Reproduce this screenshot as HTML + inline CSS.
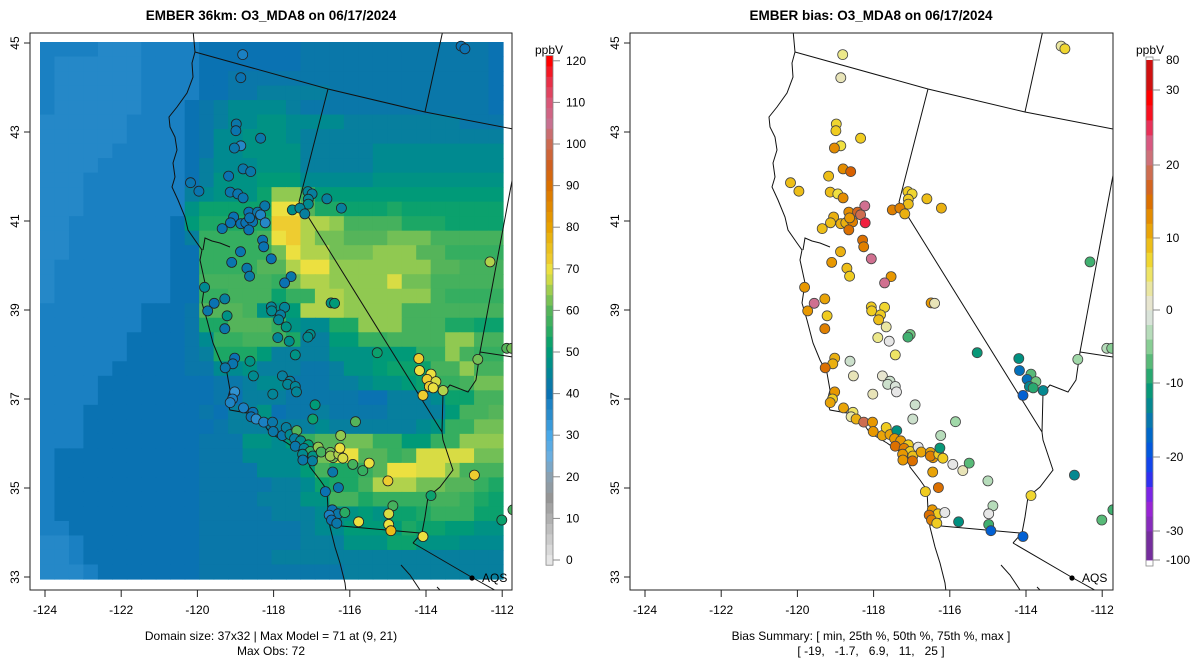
<!DOCTYPE html>
<html><head><meta charset="utf-8">
<style>
html,body{margin:0;padding:0;background:#fff;}
svg{display:block;font-family:"Liberation Sans",Arial,sans-serif;}
</style></head>
<body>
<svg id="fig" width="1200" height="672" viewBox="0 0 1200 672" xmlns="http://www.w3.org/2000/svg">
<defs>
<clipPath id="clipL"><rect x="30" y="33" width="482" height="557"/></clipPath>
<clipPath id="clipR"><rect x="630" y="33" width="483" height="557"/></clipPath>
</defs>
<text x="271" y="20" text-anchor="middle" font-size="13.5" font-weight="bold">EMBER 36km: O3_MDA8 on 06/17/2024</text>
<text x="871" y="20" text-anchor="middle" font-size="13.5" font-weight="bold">EMBER bias: O3_MDA8 on 06/17/2024</text>
<g id="leftPanel"></g>
<g id="rightPanel"></g>
<text x="271" y="640" text-anchor="middle" font-size="12">Domain size: 37x32 | Max Model = 71 at (9, 21)</text>
<text x="271" y="655" text-anchor="middle" font-size="12">Max Obs: 72</text>
<text x="871" y="640" text-anchor="middle" font-size="12">Bias Summary: [ min, 25th %, 50th %, 75th %, max ]</text>
<text x="871" y="655" text-anchor="middle" font-size="12" xml:space="preserve">[ -19,   -1.7,   6.9,   11,   25 ]</text>
</svg>
<script>
// ---- data ----
const gridRows = [
"eeee"+"ddd"+"eeee"+"fffffff"+"ggggggggggggg"+"f",
"e"+"dddddd"+"eeee"+"fffffff"+"ggggggggggggg"+"f",
"e"+"dddddd"+"eeee"+"ff"+"gggggggggggggggggg"+"f",
"e"+"dddddd"+"eeee"+"ff"+"gg"+"hhhhh"+"ggggggggggg"+"f",
"e"+"dddddd"+"eee"+"f"+"g"+"h"+"iiii"+"h"+"ggggggggggggg"+"f",
"dddddd"+"eeee"+"f"+"g"+"h"+"ii"+"jj"+"iiii"+"hhhhhhhh"+"ggg",
"dddddd"+"eeee"+"f"+"g"+"ii"+"jjj"+"i"+"hhhhhhhhhhhhhh",
"ddddd"+"eeeee"+"f"+"g"+"ii"+"jjjj"+"hhhhh"+"iiiiiiiii",
"dddd"+"eeeeee"+"f"+"h"+"iii"+"jjj"+"hhhhh"+"iiiiiiiii",
"ddd"+"eeeeeee"+"f"+"h"+"jjj"+"kkk"+"iiiii"+"jjjjjjjjj",
"ddd"+"eeeeeee"+"h"+"i"+"jjj"+"l"+"rr"+"n"+"kkkkkkkkkkkkk",
"ddd"+"eeeeeee"+"j"+"lllll"+"uu"+"p"+"mm"+"lll"+"m"+"lllllll",
"dd"+"eeeeeee"+"f"+"k"+"mmmmm"+"vv"+"ss"+"r"+"oooo"+"mmm"+"llll",
"dd"+"eeeeeee"+"f"+"h"+"nnnn"+"o"+"u"+"v"+"s"+"qq"+"ppp"+"qqq"+"ooooo",
"dd"+"eeeeeee"+"ff"+"nnnnn"+"q"+"u"+"ss"+"qqq"+"rrr"+"pp"+"nnnn",
"d"+"eeeeeeee"+"ff"+"nnnn"+"pp"+"s"+"uu"+"rrrrrrr"+"pp"+"ooo",
"d"+"eeeeeeee"+"ff"+"ooooo"+"n"+"q"+"ss"+"rrrr"+"t"+"qq"+"ooooo",
"d"+"eeeeeeee"+"ff"+"nn"+"ooo"+"l"+"nn"+"ss"+"rrrrrr"+"o"+"nnnn",
"eeeeeee"+"fff"+"g"+"ppp"+"o"+"jj"+"k"+"sss"+"rrrr"+"ooooooo",
"eeeeeee"+"fff"+"g"+"mm"+"ppp"+"n"+"j"+"ii"+"mm"+"rrr"+"ooo"+"mm"+"ll",
"eeeeee"+"ffff"+"g"+"i"+"nn"+"ooo"+"m"+"hh"+"kk"+"nn"+"oooo"+"rr"+"oo",
"eeeeee"+"ffff"+"g"+"h"+"mmm"+"k"+"hhhh"+"jjj"+"kkk"+"nn"+"r"+"o"+"nn",
"eeeee"+"fffff"+"gg"+"ii"+"j"+"hhh"+"gg"+"h"+"jj"+"k"+"lll"+"oo"+"r"+"oo",
"eeee"+"ffffffff"+"gg"+"h"+"ii"+"ggg"+"hh"+"i"+"jj"+"k"+"l"+"nn"+"o"+"qq",
"eeee"+"ffffffff"+"g"+"f"+"hhh"+"ggggg"+"ff"+"hhh"+"i"+"ll"+"oo",
"eee"+"ffffffff"+"g"+"f"+"hh"+"j"+"f"+"gg"+"h"+"gggg"+"hhhh"+"k"+"oo"+"p",
"eee"+"fffffffff"+"g"+"hhhhhh"+"i"+"hhhhhh"+"i"+"j"+"nn"+"qq",
"eee"+"ffffffff"+"ggg"+"jj"+"i"+"k"+"n"+"pp"+"qq"+"nn"+"kk"+"nn"+"rrr",
"e"+"ffffffffff"+"ggg"+"iiii"+"k"+"q"+"uu"+"pp"+"n"+"o"+"tttt"+"qq",
"e"+"ffffffffff"+"gggg"+"iii"+"k"+"o"+"mm"+"n"+"p"+"uu"+"tt"+"r"+"ooo",
"e"+"ffffffffff"+"ggggg"+"hh"+"i"+"l"+"mm"+"o"+"sss"+"qq"+"pp"+"n"+"m",
"e"+"ffffffffff"+"gggg"+"hhh"+"jj"+"oo"+"m"+"nnnn"+"oo"+"n"+"m"+"l",
"e"+"ffffffffff"+"ggggg"+"hhh"+"i"+"jj"+"k"+"j"+"ll"+"m"+"nnn"+"ll",
"ee"+"fffffffff"+"ggggggg"+"h"+"ii"+"kkkk"+"m"+"ll"+"kk"+"jj",
"dd"+"e"+"ffffffff"+"ggggggg"+"hhh"+"jjj"+"ll"+"jjj"+"iii",
"dd"+"e"+"ffffffff"+"ggggg"+"hhhhhhhhhhhhhhhh",
"ddd"+"e"+"fffffff"+"gggggggggg"+"hhhhhhhhhhh"
];
const siteLon = [-118.81,-118.86,-118.98,-118.99,-118.34,-118.86,-119.03,-118.80,-118.60,-119.18,-120.18,-119.96,-119.14,-118.94,-118.80,-118.23,-118.65,-118.42,-118.34,-119.05,-119.13,-118.86,-118.73,-118.55,-118.63,-118.22,-119.35,-118.65,-118.29,-118.26,-118.87,-118.06,-119.10,-118.70,-118.63,-117.54,-117.71,-119.81,-119.56,-119.28,-118.06,-117.71,-116.49,-116.40,
-117.10,-116.99,-117.09,-117.09,-116.60,-116.22,-117.51,-117.31,-117.18,
-119.73,-119.22,-119.28,-118.05,-117.82,-117.87,-117.67,-117.89,-117.59,-117.43,-117.04,-117.10,-119.02,-119.07,-119.27,-118.62,-118.53,-117.77,-117.57,-117.63,-117.43,-117.40,-118.02,-119.02,-119.08,-119.14,-118.79,-118.54,-118.59,-118.46,-118.26,-118.03,-118.01,-117.77,-117.67,-117.57,-117.39,-117.45,-117.29,-117.43,-117.09,-117.20,-117.04,-117.24,-116.97,-117.23,-116.98,-116.83,-116.75,-116.51,-116.44,-116.51,-116.29,-116.18,-116.26,-116.24,-115.85,-116.91,-116.97,-115.92,-115.66,-115.49,-116.45,-116.30,-116.64,-116.46,-116.31,-116.54,-116.48,-116.34,-116.13,-115.77,
-115.28,-114.19,-114.17,-113.87,-113.97,-113.74,-113.91,-113.81,-113.55,-114.08,-112.64,-111.88,-111.75,-115.00,-112.73,-113.87,-114.87,-114.98,-114.98,-114.92,-114.08,-112.01,-111.72,-113.08,-112.98,-112.32];
const siteLat = [44.74,44.22,43.18,43.03,42.86,42.69,42.64,42.17,42.11,42.01,41.86,41.67,41.65,41.61,41.52,41.34,41.20,41.20,41.14,41.09,40.96,40.94,40.96,40.98,41.07,40.96,40.83,40.80,40.57,40.42,40.31,40.15,40.07,39.94,39.76,39.75,39.61,39.51,39.15,39.25,39.07,39.06,39.16,39.15,
41.66,41.61,41.49,41.38,41.50,41.29,41.25,41.29,41.16,
38.98,38.87,38.58,38.98,38.89,38.78,38.62,38.38,38.30,37.99,38.45,38.39,37.92,37.79,37.70,37.85,37.52,37.52,37.40,37.33,37.28,37.16,37.11,37.16,37.00,36.92,36.80,36.70,36.60,36.55,36.48,36.48,36.27,36.18,36.36,36.20,36.29,36.11,36.06,35.94,35.97,35.89,35.82,35.76,35.72,35.63,35.61,35.92,35.81,35.80,35.68,35.72,35.76,35.67,35.90,36.18,36.49,36.87,36.55,35.53,35.39,35.56,35.36,35.01,34.92,34.51,34.42,34.39,34.28,34.21,34.45,34.24,
38.04,37.91,37.64,37.56,37.44,37.39,37.28,37.25,37.19,37.08,37.89,38.14,38.14,35.16,35.29,34.83,34.60,34.42,34.18,34.04,33.91,34.28,34.51,44.93,44.87,40.08];
const siteObs = [38,40,42,41,42,36,42,42,42,40,41,41,41,41,41,42,40,42,37,40,40,40,40,41,40,36,41,40,40,40,41,40,41,42,43,42,40,46,40,44,45,45,48,50,
45,44,45,46,44,44,47,45,44,
42,48,42,46,44,45,48,45,47,48,47,46,40,41,42,48,46,44,44,45,45,45,45,34,38,37,38,40,40,35,38,42,42,42,44,46,60,44,46,42,50,45,55,46,48,42,44,64,58,62,62,65,66,68,70,64,60,50,52,58,56,70,42,42,40,40,42,38,40,42,55,70,
52,72,70,70,72,68,72,70,66,72,62,60,62,72,72,52,58,68,70,76,70,52,58,40,40,66];
const siteBias = [4,2,7,8,8,6,13,13,16,9,9,9,9,6,13,22,13,17,19,10,9,10,10,14,12,26,9,15,15,14,10,22,12,9,8,12,22,12,22,11,8,7,12,2,
8,7,8,9,9,10,14,14,10,
12,8,14,8,8,9,3,4,0,5,-6,-8,10,10,15,-2,2,1,-2,-2,-1,0,2,12,8,11,11,5,3,10,19,12,12,11,8,11,-12,12,12,15,8,14,8,12,9,12,15,0,11,11,12,14,8,8,-11,-3,-4,-2,-2,0,2,-7,11,15,8,12,8,15,14,8,0,-12,
-11,-12,-16,-7,-16,-6,-13,-9,-13,-18,-4,-3,-5,-3,-13,7,-3,0,-8,-18,-18,-7,-8,3,7,-8];
const xTicks = [-124,-122,-120,-118,-116,-114,-112];
const yTicks = [33,35,37,39,41,43,45];
const obsBarTicks = [0,10,20,30,40,50,60,70,80,90,100,110,120];
const biasBarTicks = [-100,-30,-20,-10,0,10,20,30,80];

// ---- scales ----
const NS='http://www.w3.org/2000/svg';
function xScale(lon, off){ return 45 + (lon + 124) * 38.1 + off; }
function yScale(lat){ return 43 + (45 - lat) * 44.5; }
function hex2rgb(h){return [parseInt(h.slice(1,3),16),parseInt(h.slice(3,5),16),parseInt(h.slice(5,7),16)];}
function interp(stops, v){
  if(v<=stops[0][0]) return stops[0][1];
  for(let i=1;i<stops.length;i++){
    if(v<=stops[i][0]){
      const t=(v-stops[i-1][0])/(stops[i][0]-stops[i-1][0]);
      const a=hex2rgb(stops[i-1][1]), b=hex2rgb(stops[i][1]);
      return 'rgb('+a.map((c,k)=>Math.round(c+(b[k]-c)*t)).join(',')+')';
    }
  }
  return stops[stops.length-1][1];
}
const obsStops=[[0,'#e6e6e6'],[10,'#b0b0b0'],[15,'#959595'],[20,'#8aa0b0'],[25,'#6aaee0'],[30,'#48a8e8'],[35,'#2a8ccb'],[38,'#1a80c2'],[40,'#0a72b2'],[43,'#0a7aa5'],[46,'#008a90'],[50,'#009a78'],[53,'#10a468'],[56,'#35ae60'],[60,'#55b45a'],[63,'#80c454'],[66,'#b0d24c'],[68,'#d8dc44'],[70,'#ece040'],[72,'#eecc30'],[76,'#eabc18'],[80,'#e8a200'],[90,'#da7000'],[95,'#d06020'],[100,'#cc6a50'],[105,'#c87090'],[110,'#d85878'],[115,'#e83048'],[120,'#ff0000']];
const biasStops=[[-100,'#6a2a8a'],[-30,'#7f2fb0'],[-26,'#a020e0'],[-23,'#3030f0'],[-20,'#0550e8'],[-17,'#0068c8'],[-14,'#0a80a0'],[-12,'#009080'],[-10,'#10a070'],[-8,'#40b070'],[-6,'#70c480'],[-4,'#a0d8a8'],[-2,'#cce0cc'],[0,'#e6e6e6'],[2,'#e8e4b8'],[4,'#ece88a'],[6,'#f0e040'],[8,'#f0cc20'],[10,'#eab010'],[12,'#e89800'],[14,'#e08000'],[16,'#d86000'],[18,'#d06a40'],[20,'#cc7060'],[22,'#d07090'],[24,'#e04070'],[26,'#f02040'],[28,'#ff0000'],[30,'#ff0000'],[80,'#a02020']];
function obsY(v){ return 560 - v*4.16; }
const biasPos=[[-100,560],[-30,531],[-20,457],[-10,383],[0,310],[10,238],[20,165],[30,90],[80,60]];
function biasY(v){
  for(let i=1;i<biasPos.length;i++){ if(v<=biasPos[i][0]){const a=biasPos[i-1],b=biasPos[i];return a[1]+(v-a[0])/(b[0]-a[0])*(b[1]-a[1]);} }
  return 60;
}
function mk(tag, attrs, parent){ const e=document.createElementNS(NS,tag); for(const k in attrs) e.setAttribute(k,attrs[k]); parent.appendChild(e); return e; }

const coast="193,30 195,52 192,63 193,77 187,93 177,107 169,117 170,127 175,137 177,150 173,163 175,177 172,187 178,200 185,217 188,230 197,243 202,250 200,260 205,283 202,303 207,320 213,343 220,360 227,373 230,390 227,402 230,410 247,413 263,423 270,433 287,443 297,450 307,453 310,467 320,480 327,490 328,510 330,527 335,547 340,563 345,583 347,600";
const borders=["203,250 205,238 212,241 220,243 230,247","195,52 328,89 425,112 513,129","328,89 299,202 442,432","443,30 425,112","514,170 480,352","480,352 513,357","480,352 476,380 468,392 450,385 443,393 442,432","442,432 443,440 453,470 440,487 428,497 425,517 422,533 413,543","330,525 420,533","413,543 473,578 500,593","401,565 410,575 420,590","437,587 445,595"];

function basemap(g, off){
  const bm=mk('g',{transform:'translate('+off+',0)'},g);
  const c=mk('polyline',{points:coast,fill:'none',stroke:'#111','stroke-width':'1'},bm);
  
  
  borders.forEach(p=>{
    const b=mk('polyline',{points:p,fill:'none',stroke:'#111','stroke-width':'1'},bm);
    
    
  });
  return bm;
}
function axes(g, off){
  const box=mk('rect',{x:30+off,y:33,width:482+(off?1:0),height:557,fill:'none',stroke:'#222','stroke-width':'1'},g);
  
  
  xTicks.forEach(t=>{
    const x=xScale(t,off);
    mk('line',{x1:x,y1:590,x2:x,y2:597,stroke:'#222'},g);
    const tx=mk('text',{x:x,y:614,'text-anchor':'middle','font-size':'12'},g); tx.textContent=t;
    
    
  });
  yTicks.forEach(t=>{
    const y=yScale(t);
    mk('line',{x1:30+off,y1:y,x2:24+off,y2:y,stroke:'#222'},g);
    const tx=mk('text',{x:19+off,y:y,'text-anchor':'middle','font-size':'12',transform:'rotate(-90 '+(19+off)+' '+y+')'},g); tx.textContent=t;
    
    
  });
}
function aqs(g, off){
  const d=mk('circle',{cx:472+off,cy:578,r:2.6,fill:'#000'},g);
  
  
  const t=mk('text',{x:482+off,y:582,'font-size':'12'},g); t.textContent='AQS';
  
  
}

// ---- left panel ----
const L=document.getElementById('leftPanel');
const Lc=mk('g',{'clip-path':'url(#clipL)'},L);
const cw=463/32, ch=537/37;
gridRows.forEach((row,r)=>{
  for(let c=0;c<row.length;c++){
    const v=30+2*(row.charCodeAt(c)-97);
    const cell=mk('rect',{x:(40+c*cw).toFixed(2),y:(42+r*ch).toFixed(2),width:(cw+0.6).toFixed(2),height:(ch+0.6).toFixed(2),fill:interp(obsStops,v)},Lc);
    
    
  }
});
basemap(Lc,0);
siteLon.forEach((lon,i)=>{
  const m=mk('circle',{cx:xScale(lon,0).toFixed(1),cy:yScale(siteLat[i]).toFixed(1),r:5,fill:interp(obsStops,siteObs[i]),stroke:'#222','stroke-width':'0.8'},Lc);
  
  
});
aqs(L,0);
axes(L,0);
// left colorbar
const cbL=mk('g',{},L);


for(let v=-1.25;v<121.25;v+=2.5){
  mk('rect',{x:546,y:obsY(v+2.5).toFixed(2),width:7,height:(2.5*4.16+0.4).toFixed(2),fill:interp(obsStops,v+1.25)},cbL);
}
mk('rect',{x:546,y:obsY(121.25),width:7,height:obsY(-1.25)-obsY(121.25),fill:'none',stroke:'#888','stroke-width':'0.8'},cbL);
obsBarTicks.forEach(t=>{
  mk('line',{x1:553,y1:obsY(t),x2:560,y2:obsY(t),stroke:'#888'},cbL);
  const tx=mk('text',{x:566,y:obsY(t)+4,'font-size':'12'},cbL); tx.textContent=t;
  
  
});
const uL=mk('text',{x:549,y:54,'text-anchor':'middle','font-size':'12'},cbL); uL.textContent='ppbV';



// ---- right panel ----
const R=document.getElementById('rightPanel');
const Rc=mk('g',{'clip-path':'url(#clipR)'},R);
basemap(Rc,600);
siteLon.forEach((lon,i)=>{
  const m=mk('circle',{cx:xScale(lon,600).toFixed(1),cy:yScale(siteLat[i]).toFixed(1),r:5,fill:interp(biasStops,siteBias[i]),stroke:'#444','stroke-width':'0.8'},Rc);
  
  
});
aqs(R,600);
axes(R,600);
const cbR=mk('g',{},R);


const segs=[-100,-30];
for(let v=-30;v<30;v+=2) segs.push(v+2);
segs.push(80);
for(let i=0;i<segs.length-1;i++){
  const a=segs[i], b=segs[i+1];
  const y1=biasY(b), y2=biasY(a);
  mk('rect',{x:1146,y:y1.toFixed(2),width:7,height:(y2-y1+0.4).toFixed(2),fill:interp(biasStops,(a+b)/2)},cbR);
}
mk('rect',{x:1146,y:57,width:7,height:566-57,fill:'none',stroke:'#888','stroke-width':'0.8'},cbR);
biasBarTicks.forEach(t=>{
  mk('line',{x1:1153,y1:biasY(t),x2:1160,y2:biasY(t),stroke:'#888'},cbR);
  const tx=mk('text',{x:1166,y:biasY(t)+4,'font-size':'12'},cbR); tx.textContent=t;
  
  
});
const uR=mk('text',{x:1150,y:54,'text-anchor':'middle','font-size':'12'},cbR); uR.textContent='ppbV';


</script>
</body></html>
